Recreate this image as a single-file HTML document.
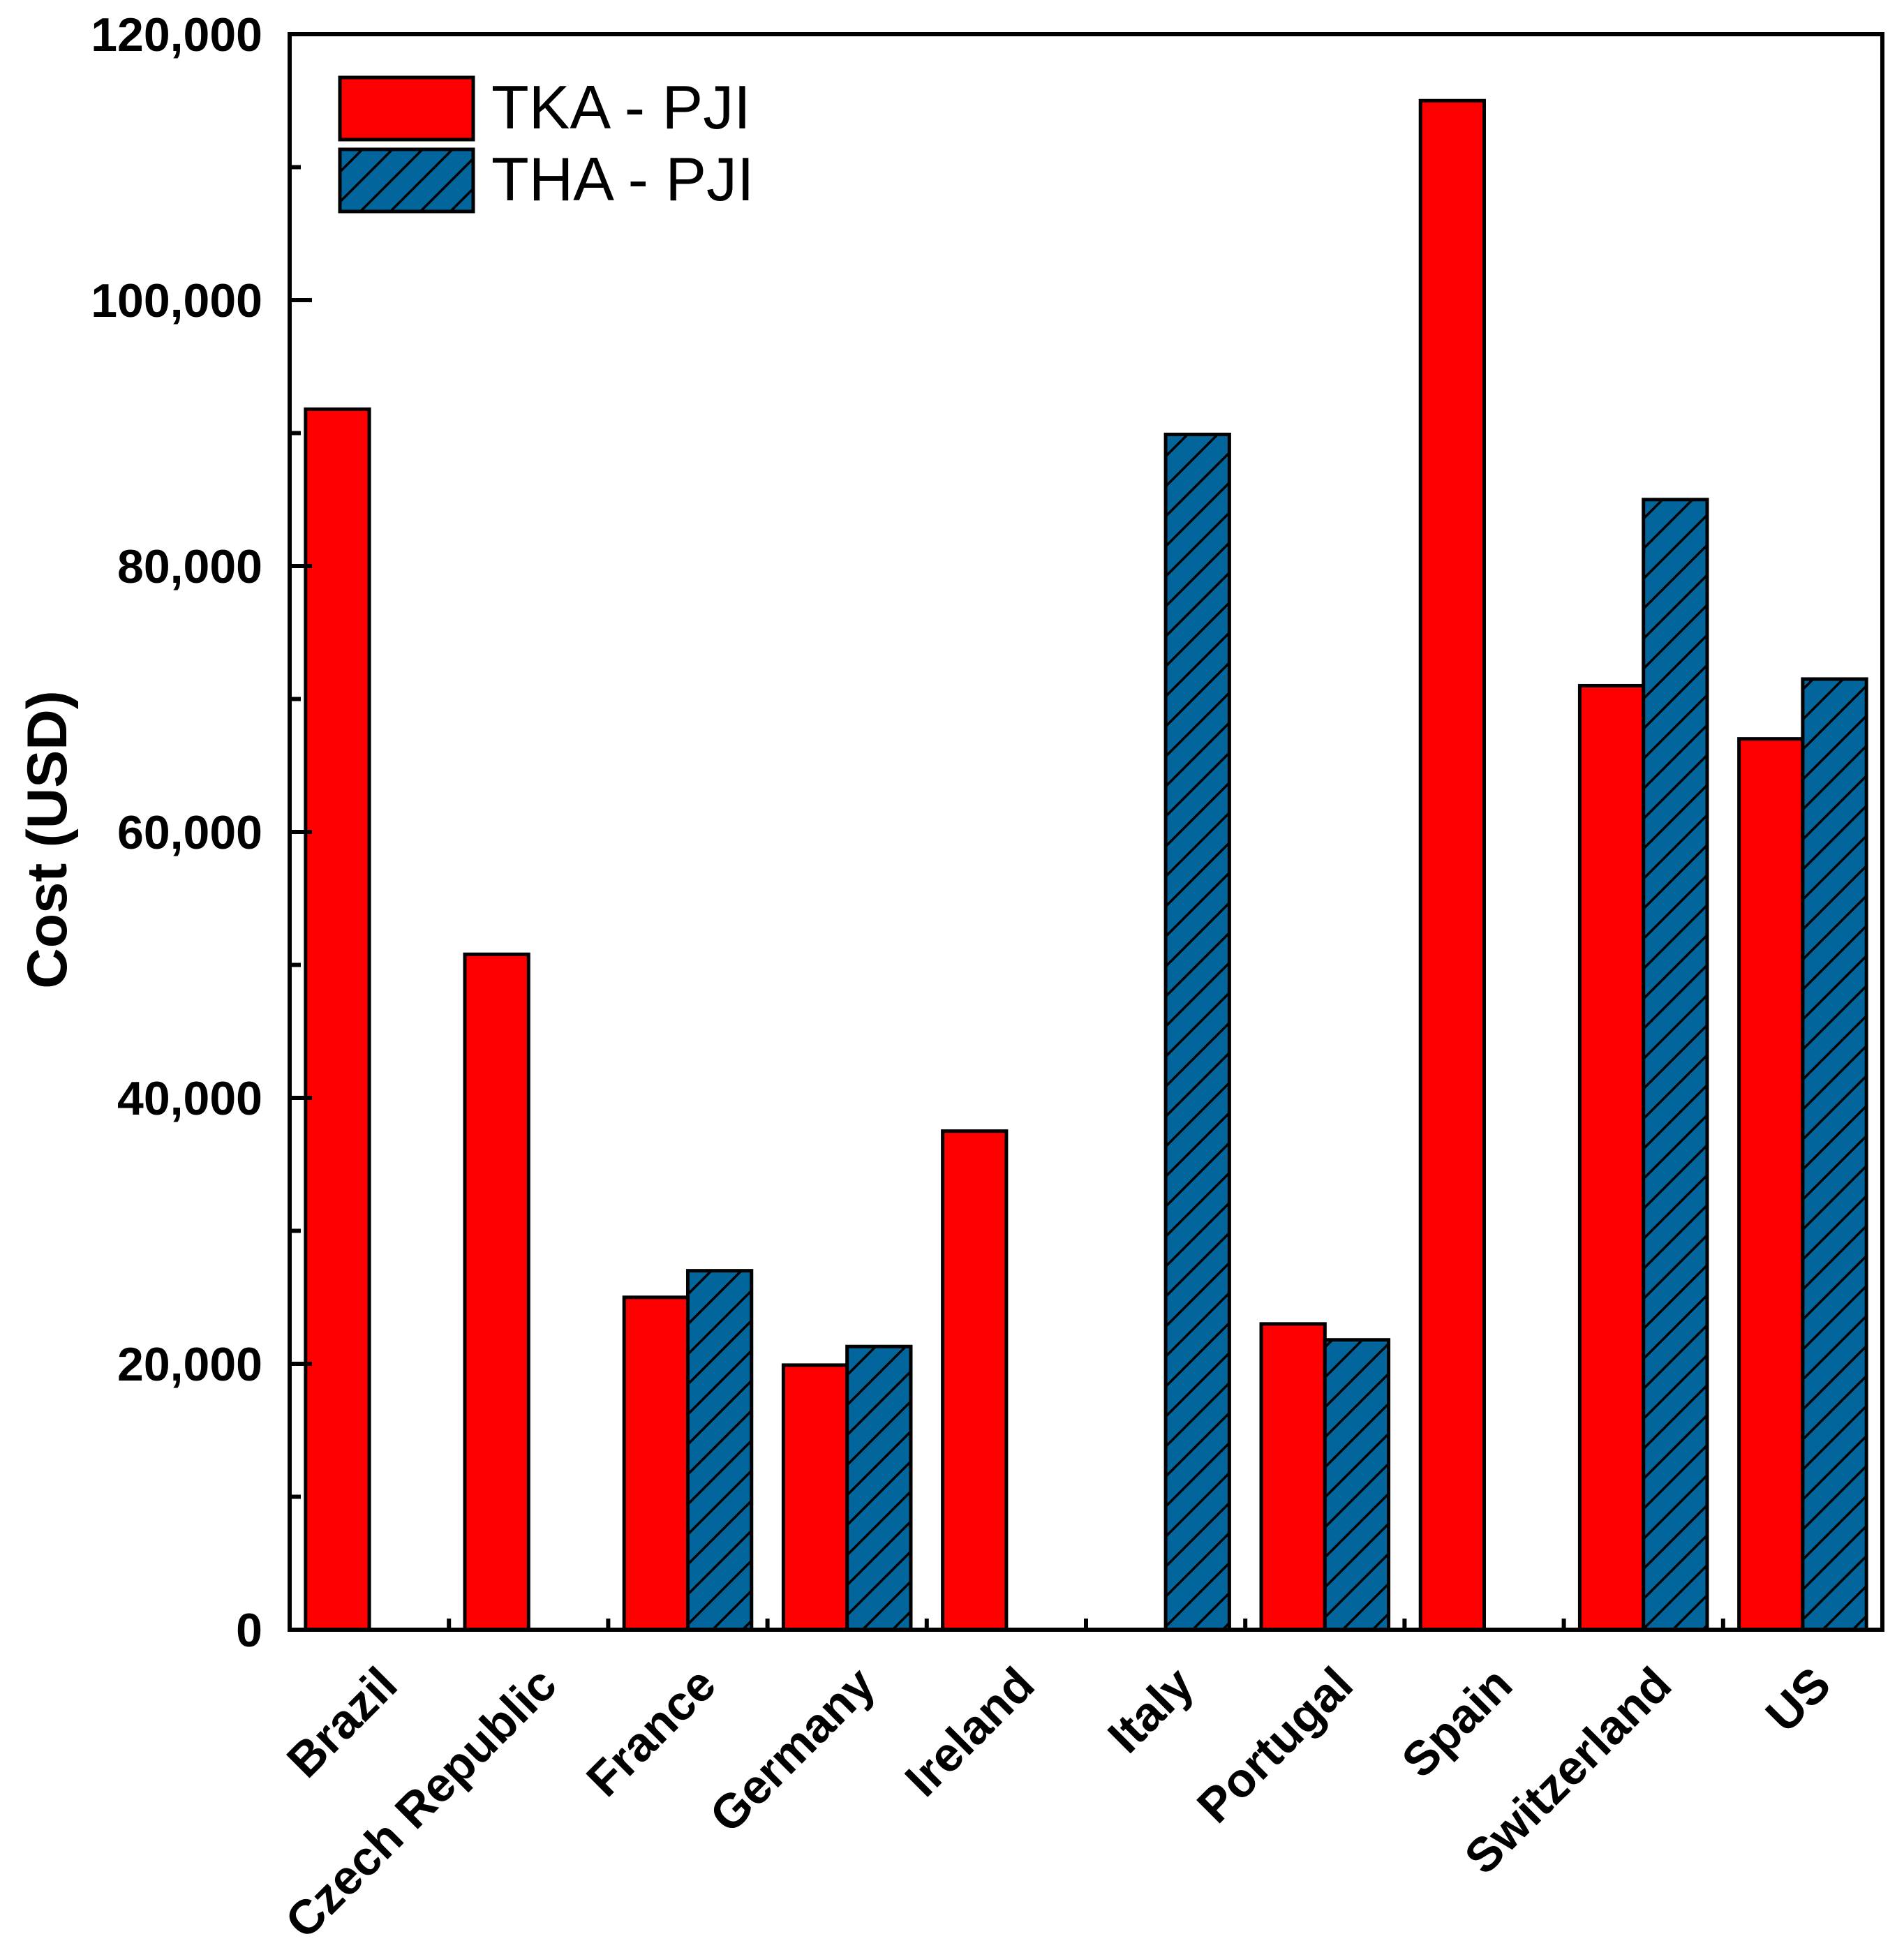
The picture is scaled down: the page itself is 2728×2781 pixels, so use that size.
<!DOCTYPE html>
<html><head><meta charset="utf-8"><style>
body{margin:0;background:#fff}
svg{display:block;font-family:"Liberation Sans",Arial,sans-serif}
</style></head><body>
<svg id="chart" width="2728" height="2781" viewBox="0 0 2728 2781">
<defs>
<pattern id="hatch" patternUnits="userSpaceOnUse" width="30.4" height="30.4" patternTransform="rotate(-45)">
<rect width="30.4" height="30.4" fill="#02659b"/>
<line x1="0" y1="0" x2="30.4" y2="0" stroke="#000" stroke-width="7"/>
</pattern>
</defs>
<g id="bars"></g>
<g id="axes"></g>
<text transform="translate(95,1203) rotate(-90)" text-anchor="middle" font-size="81" font-weight="bold">Cost (USD)</text>
<g>
<rect x="487" y="111" width="191" height="89" fill="#ff0000" stroke="#000" stroke-width="5"/>
<text x="704" y="184" font-size="88">TKA - PJI</text>
<rect x="487" y="214" width="191" height="89" fill="url(#hatch)" stroke="#000" stroke-width="5"/>
<text x="704" y="287" font-size="88">THA - PJI</text>
</g>
</svg>
<script>
const categories=["Brazil","Czech Republic","France","Germany","Ireland","Italy","Portugal","Spain","Switzerland","US"];
const tkaValues=[91800,50800,25000,19900,37500,0,23000,115000,71000,67000];
const thaValues=[0,0,27000,21300,0,89900,21800,0,85000,71500];
const yTicks=[0,20000,40000,60000,80000,100000,120000];
const yTickLabels=["0","20,000","40,000","60,000","80,000","100,000","120,000"];
const L=415,R=2697,T=49,B=2335,YMAX=120000;
const NS="http://www.w3.org/2000/svg";
const gw=(R-L)/categories.length, bw=gw*0.4;
function y(v){return B-(v/YMAX)*(B-T);}
function xc(i){return L+gw*(i+0.5);}
function mk(tag,attrs,parent){const e=document.createElementNS(NS,tag);for(const k in attrs)e.setAttribute(k,attrs[k]);parent.appendChild(e);return e;}
const bars=document.getElementById('bars'),axes=document.getElementById('axes');
categories.forEach((c,i)=>{
  if(tkaValues[i]>0){
    const r=mk('rect',{x:xc(i)-bw,y:y(tkaValues[i]),width:bw,height:B-y(tkaValues[i]),fill:'#ff0000',stroke:'#000','stroke-width':5},bars);
    
    
  }
  if(thaValues[i]>0){
    const r=mk('rect',{x:xc(i),y:y(thaValues[i]),width:bw,height:B-y(thaValues[i]),fill:'url(#hatch)',stroke:'#000','stroke-width':5},bars);
    
    
  }
  const ax=xc(i)+44, ay=2418;
  const t=mk('text',{x:ax,y:ay,'text-anchor':'end','font-size':69,'font-weight':'bold',transform:`rotate(-45 ${ax} ${ay})`},axes);
  t.textContent=c;
  
  
  if(i>0){const tk=mk('line',{x1:L+gw*i,x2:L+gw*i,y1:B,y2:B-16,stroke:'#000','stroke-width':6},axes);
    
    }
});
yTicks.forEach((v,i)=>{
  const tk=mk('line',{x1:L,x2:L+32,y1:y(v),y2:y(v),stroke:'#000','stroke-width':6},axes);
  
  
  if(i<yTicks.length-1){const m=mk('line',{x1:L,x2:L+16,y1:y(v+10000),y2:y(v+10000),stroke:'#000','stroke-width':6},axes);
    
    }
  const t=mk('text',{x:376,y:y(v)+24,'text-anchor':'end','font-size':68,'font-weight':'bold'},axes);
  t.textContent=yTickLabels[i];
  
  
});
const fr=mk('rect',{x:L,y:T,width:R-L,height:B-T,fill:'none',stroke:'#000','stroke-width':6},axes);


</script>
</body></html>
